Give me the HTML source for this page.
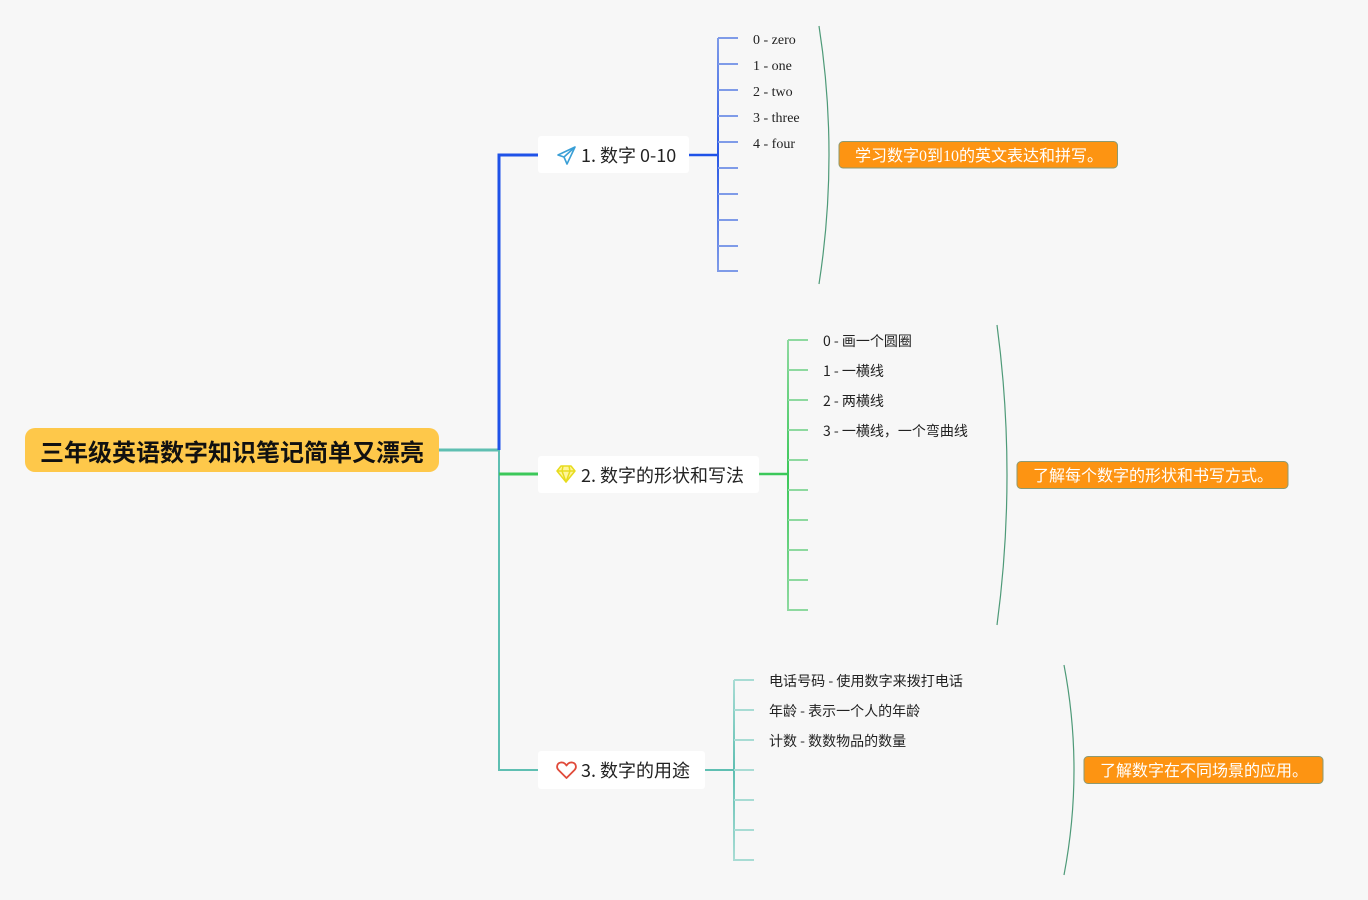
<!DOCTYPE html>
<html>
<head>
<meta charset="utf-8">
<style>
html,body{margin:0;padding:0;background:#f7f7f7;}
svg{display:block;}
.sans{font-family:"Liberation Sans","Noto Sans CJK SC",sans-serif;}
.cjk{font-family:"Noto Sans CJK SC","Liberation Sans",sans-serif;}
.serif{font-family:"Liberation Serif","Noto Sans CJK SC",serif;}
</style>
</head>
<body>
<svg width="1368" height="900" viewBox="0 0 1368 900" xmlns="http://www.w3.org/2000/svg">
<defs>
  <linearGradient id="gb" gradientUnits="userSpaceOnUse" x1="0" y1="38" x2="0" y2="271">
    <stop offset="0" stop-color="#7f9be8"/>
    <stop offset="0.5" stop-color="#2a58e6"/>
    <stop offset="1" stop-color="#7f9be8"/>
  </linearGradient>
  <linearGradient id="gg" gradientUnits="userSpaceOnUse" x1="0" y1="340" x2="0" y2="610">
    <stop offset="0" stop-color="#8ed9a0"/>
    <stop offset="0.5" stop-color="#3cc85a"/>
    <stop offset="1" stop-color="#8ed9a0"/>
  </linearGradient>
  <linearGradient id="gt" gradientUnits="userSpaceOnUse" x1="0" y1="680" x2="0" y2="860">
    <stop offset="0" stop-color="#a8dcd4"/>
    <stop offset="0.5" stop-color="#5fbfb2"/>
    <stop offset="1" stop-color="#a8dcd4"/>
  </linearGradient>
</defs>
<rect width="1368" height="900" fill="#f7f7f7"/>

<!-- main connectors -->
<line x1="439" y1="450" x2="500" y2="450" stroke="#5fbfb2" stroke-width="3"/>
<polyline points="538,155 499,155 499,450" fill="none" stroke="#1f52e8" stroke-width="3"/>
<polyline points="499,450 499,770 538,770" fill="none" stroke="#5fbfb2" stroke-width="2"/>
<line x1="499" y1="474" x2="538" y2="474" stroke="#3cc85a" stroke-width="3"/>

<!-- root -->
<rect x="25" y="428" width="414" height="44" rx="10" fill="#fec84a"/>
<text x="232" y="461" text-anchor="middle" class="sans" font-size="24" font-weight="bold" fill="#111">三年级英语数字知识笔记简单又漂亮</text>

<!-- Branch 1 -->
<rect x="538" y="136" width="151" height="37" rx="3" fill="#ffffff"/>
<g transform="translate(558,147)" fill="none" stroke="#3a9fd6" stroke-width="1.6" stroke-linejoin="round">
  <path d="M17 0 L0 8 L6 10 L9 17 Z"/>
  <path d="M17 0 L6 10"/>
</g>
<text x="581" y="162" class="cjk" font-size="18" fill="#222">1. 数字 0-10</text>
<line x1="689" y1="155" x2="718" y2="155" stroke="#1f52e8" stroke-width="2.5"/>
<line x1="718" y1="38" x2="718" y2="272" stroke="url(#gb)" stroke-width="2"/>
<g stroke="#7f9be8" stroke-width="2">
  <line x1="718" y1="38" x2="738" y2="38"/>
  <line x1="718" y1="64" x2="738" y2="64"/>
  <line x1="718" y1="90" x2="738" y2="90"/>
  <line x1="718" y1="116" x2="738" y2="116"/>
  <line x1="718" y1="142" x2="738" y2="142"/>
  <line x1="718" y1="168" x2="738" y2="168"/>
  <line x1="718" y1="194" x2="738" y2="194"/>
  <line x1="718" y1="220" x2="738" y2="220"/>
  <line x1="718" y1="246" x2="738" y2="246"/>
  <line x1="718" y1="271" x2="738" y2="271"/>
</g>
<g class="serif" font-size="14" fill="#222">
  <text x="753" y="44">0 - zero</text>
  <text x="753" y="70">1 - one</text>
  <text x="753" y="96">2 - two</text>
  <text x="753" y="122">3 - three</text>
  <text x="753" y="148">4 - four</text>
</g>
<path d="M819 26 Q839 155 819 284" fill="none" stroke="#4e9a78" stroke-width="1.2"/>
<rect x="839" y="141.5" width="278.5" height="26.5" rx="4" fill="#fd9412" stroke="#8c9a72" stroke-width="1"/>
<text x="855" y="161" class="serif" font-size="16" fill="#ffffff">学习数字0到10的英文表达和拼写。</text>

<!-- Branch 2 -->
<rect x="538" y="456" width="221" height="37" rx="3" fill="#ffffff"/>
<g transform="translate(557,466)" fill="#fff59a" stroke="#e7dc1e" stroke-width="1.5" stroke-linejoin="round">
  <path d="M4 0 L14 0 L18 5 L9 16 L0 5 Z"/>
  <path d="M0 5 L18 5 M6 0 L5 5 L9 16 L13 5 L12 0" fill="none"/>
</g>
<text x="581" y="482" class="cjk" font-size="18" fill="#222">2. 数字的形状和写法</text>
<line x1="759" y1="474" x2="788" y2="474" stroke="#3cc85a" stroke-width="2.5"/>
<line x1="788" y1="340" x2="788" y2="611" stroke="url(#gg)" stroke-width="2"/>
<g stroke="#8ed9a0" stroke-width="2">
  <line x1="788" y1="340" x2="808" y2="340"/>
  <line x1="788" y1="370" x2="808" y2="370"/>
  <line x1="788" y1="400" x2="808" y2="400"/>
  <line x1="788" y1="430" x2="808" y2="430"/>
  <line x1="788" y1="460" x2="808" y2="460"/>
  <line x1="788" y1="490" x2="808" y2="490"/>
  <line x1="788" y1="520" x2="808" y2="520"/>
  <line x1="788" y1="550" x2="808" y2="550"/>
  <line x1="788" y1="580" x2="808" y2="580"/>
  <line x1="788" y1="610" x2="808" y2="610"/>
</g>
<g class="cjk" font-size="14" fill="#222">
  <text x="823" y="346">0 - 画一个圆圈</text>
  <text x="823" y="376">1 - 一横线</text>
  <text x="823" y="406">2 - 两横线</text>
  <text x="823" y="436">3 - 一横线，一个弯曲线</text>
</g>
<path d="M997 325 Q1017 475 997 625" fill="none" stroke="#4e9a78" stroke-width="1.2"/>
<rect x="1017" y="461.5" width="271" height="27" rx="4" fill="#fd9412" stroke="#8c9a72" stroke-width="1"/>
<text x="1033" y="481" class="sans" font-size="16" fill="#ffffff">了解每个数字的形状和书写方式。</text>

<!-- Branch 3 -->
<rect x="538" y="751" width="167" height="38" rx="3" fill="#ffffff"/>
<path transform="translate(557,762)" d="M9.5 16 L1.5 8 C-1 5.5 0 1 3.8 0.5 C6.3 0.2 8.3 1.5 9.5 3.5 C10.7 1.5 12.7 0.2 15.2 0.5 C19 1 20 5.5 17.5 8 Z" fill="none" stroke="#e04a3a" stroke-width="1.8" stroke-linejoin="round"/>
<text x="581" y="777" class="cjk" font-size="18" fill="#222">3. 数字的用途</text>
<line x1="705" y1="770" x2="734" y2="770" stroke="#5fbfb2" stroke-width="2"/>
<line x1="734" y1="680" x2="734" y2="861" stroke="url(#gt)" stroke-width="2"/>
<g stroke="#a8dcd4" stroke-width="2">
  <line x1="734" y1="680" x2="754" y2="680"/>
  <line x1="734" y1="710" x2="754" y2="710"/>
  <line x1="734" y1="740" x2="754" y2="740"/>
  <line x1="734" y1="770" x2="754" y2="770"/>
  <line x1="734" y1="800" x2="754" y2="800"/>
  <line x1="734" y1="830" x2="754" y2="830"/>
  <line x1="734" y1="860" x2="754" y2="860"/>
</g>
<g class="cjk" font-size="14" fill="#222">
  <text x="769" y="686" textLength="194" lengthAdjust="spacingAndGlyphs">电话号码 - 使用数字来拨打电话</text>
  <text x="769" y="716">年龄 - 表示一个人的年龄</text>
  <text x="769" y="746">计数 - 数数物品的数量</text>
</g>
<path d="M1064 665 Q1084 770 1064 875" fill="none" stroke="#4e9a78" stroke-width="1.2"/>
<rect x="1084" y="756.5" width="239" height="27" rx="4" fill="#fd9412" stroke="#8c9a72" stroke-width="1"/>
<text x="1100" y="776" class="sans" font-size="16" fill="#ffffff">了解数字在不同场景的应用。</text>
</svg>
</body>
</html>
